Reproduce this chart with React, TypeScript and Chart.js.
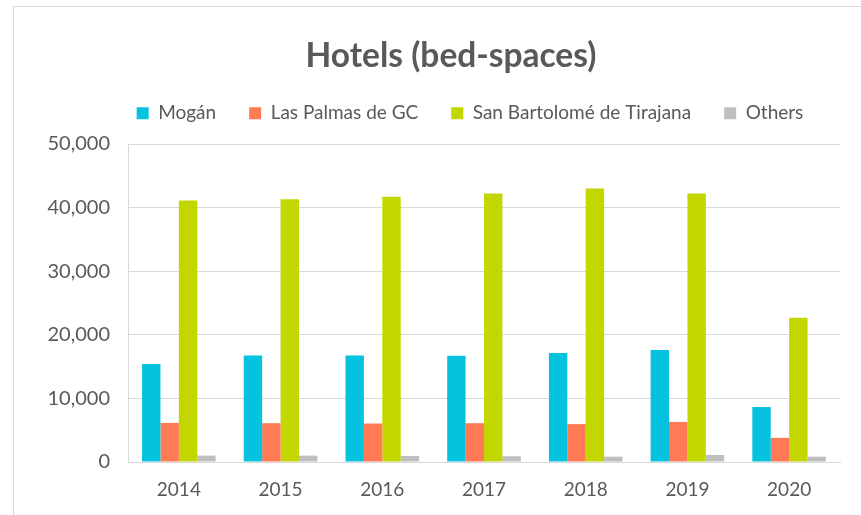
import React, { useEffect, useRef } from "react";
import { Chart, registerables } from "chart.js";

Chart.register(...registerables);

const years = ["2014", "2015", "2016", "2017", "2018", "2019", "2020"];
const mogan = [15400, 16750, 16750, 16700, 17150, 17600, 8650];
const lasPalmas = [6150, 6100, 6050, 6100, 5950, 6300, 3800];
const sanBartolome = [41100, 41300, 41700, 42200, 43000, 42200, 22700];
const others = [1000, 1000, 950, 900, 830, 1100, 830];

const FONT = "Lato, 'Open Sans', sans-serif";
const TEXT = "#595959";
const GRID = "#D9D9D9";

const boxShift = {
  id: "boxShift",
  afterLayout(chart: any) {
    const l = chart.legend;
    if (l) {
      l.left += 50;
      l.right += 50;
      l.top -= 5.5;
      l.bottom -= 5.5;
    }
    const t = chart.titleBlock;
    if (t) {
      t.left += 31;
      t.right += 31;
    }
  },
};

export default function App() {
  const ref = useRef<HTMLCanvasElement | null>(null);
  useEffect(() => {
    if (!ref.current) return;
    const chart = new Chart(ref.current, {
      type: "bar",
      data: {
        labels: years,
        datasets: [
          { label: "Mogán", data: mogan, backgroundColor: "#05C3DE" },
          { label: "Las Palmas de GC", data: lasPalmas, backgroundColor: "#FF7A55" },
          { label: "San Bartolomé de Tirajana", data: sanBartolome, backgroundColor: "#C4D600" },
          { label: "Others", data: others, backgroundColor: "#BFBFBF" },
        ],
      },
      plugins: [boxShift],
      options: {
        animation: false,
        responsive: false,
        maintainAspectRatio: false,
        layout: { padding: { left: 0, right: 21, top: 0, bottom: 0 } },
        datasets: { bar: { barPercentage: 1, categoryPercentage: 0.724 } },
        plugins: {
          title: {
            display: true,
            text: "Hotels (bed-spaces)",
            color: TEXT,
            font: { family: FONT, size: 33.5, weight: "bold", lineHeight: 1.2 },
            padding: { top: 36, bottom: 0 },
          },
          subtitle: {
            display: true,
            text: "",
            weight: 500,
            font: { size: 1, lineHeight: 1 },
            padding: { top: 0, bottom: 4.8 },
          } as any,
          legend: {
            position: "top",
            labels: {
              color: TEXT,
              font: { family: FONT, size: 19 },
              boxWidth: 12,
              boxHeight: 12,
              padding: 33,
            },
          },
          tooltip: { enabled: false },
        },
        scales: {
          x: {
            grid: { display: false, drawTicks: false },
            border: { display: true, color: GRID, width: 1 },
            ticks: { color: TEXT, font: { family: FONT, size: 19, lineHeight: 1.2 }, padding: 16.6 },
            afterFit: (s: any) => {
              s.height = 53;
            },
          },
          y: {
            min: 0,
            max: 50000,
            grid: { color: GRID, drawTicks: false },
            border: { display: true, color: GRID },
            ticks: {
              stepSize: 10000,
              color: TEXT,
              font: { family: FONT, size: 20 },
              padding: 18,
              callback: (v: any) => Number(v).toLocaleString("en-US"),
            },
            afterFit: (s: any) => {
              s.width = 128;
            },
          },
        },
      },
    });
    return () => chart.destroy();
  }, []);
  return (
    <div style={{ position: "fixed", left: 0, top: 0, width: 861, height: 515, background: "#fff", overflow: "hidden" }}>
      <div
        style={{
          position: "absolute",
          left: 13,
          top: 6,
          right: 0,
          bottom: 0,
          borderLeft: "1px solid #D9D9D9",
          borderTop: "1px solid #D9D9D9",
        }}
      />
      <canvas ref={ref} width={861} height={515} style={{ position: "absolute", left: 0, top: 0 }} />
    </div>
  );
}
